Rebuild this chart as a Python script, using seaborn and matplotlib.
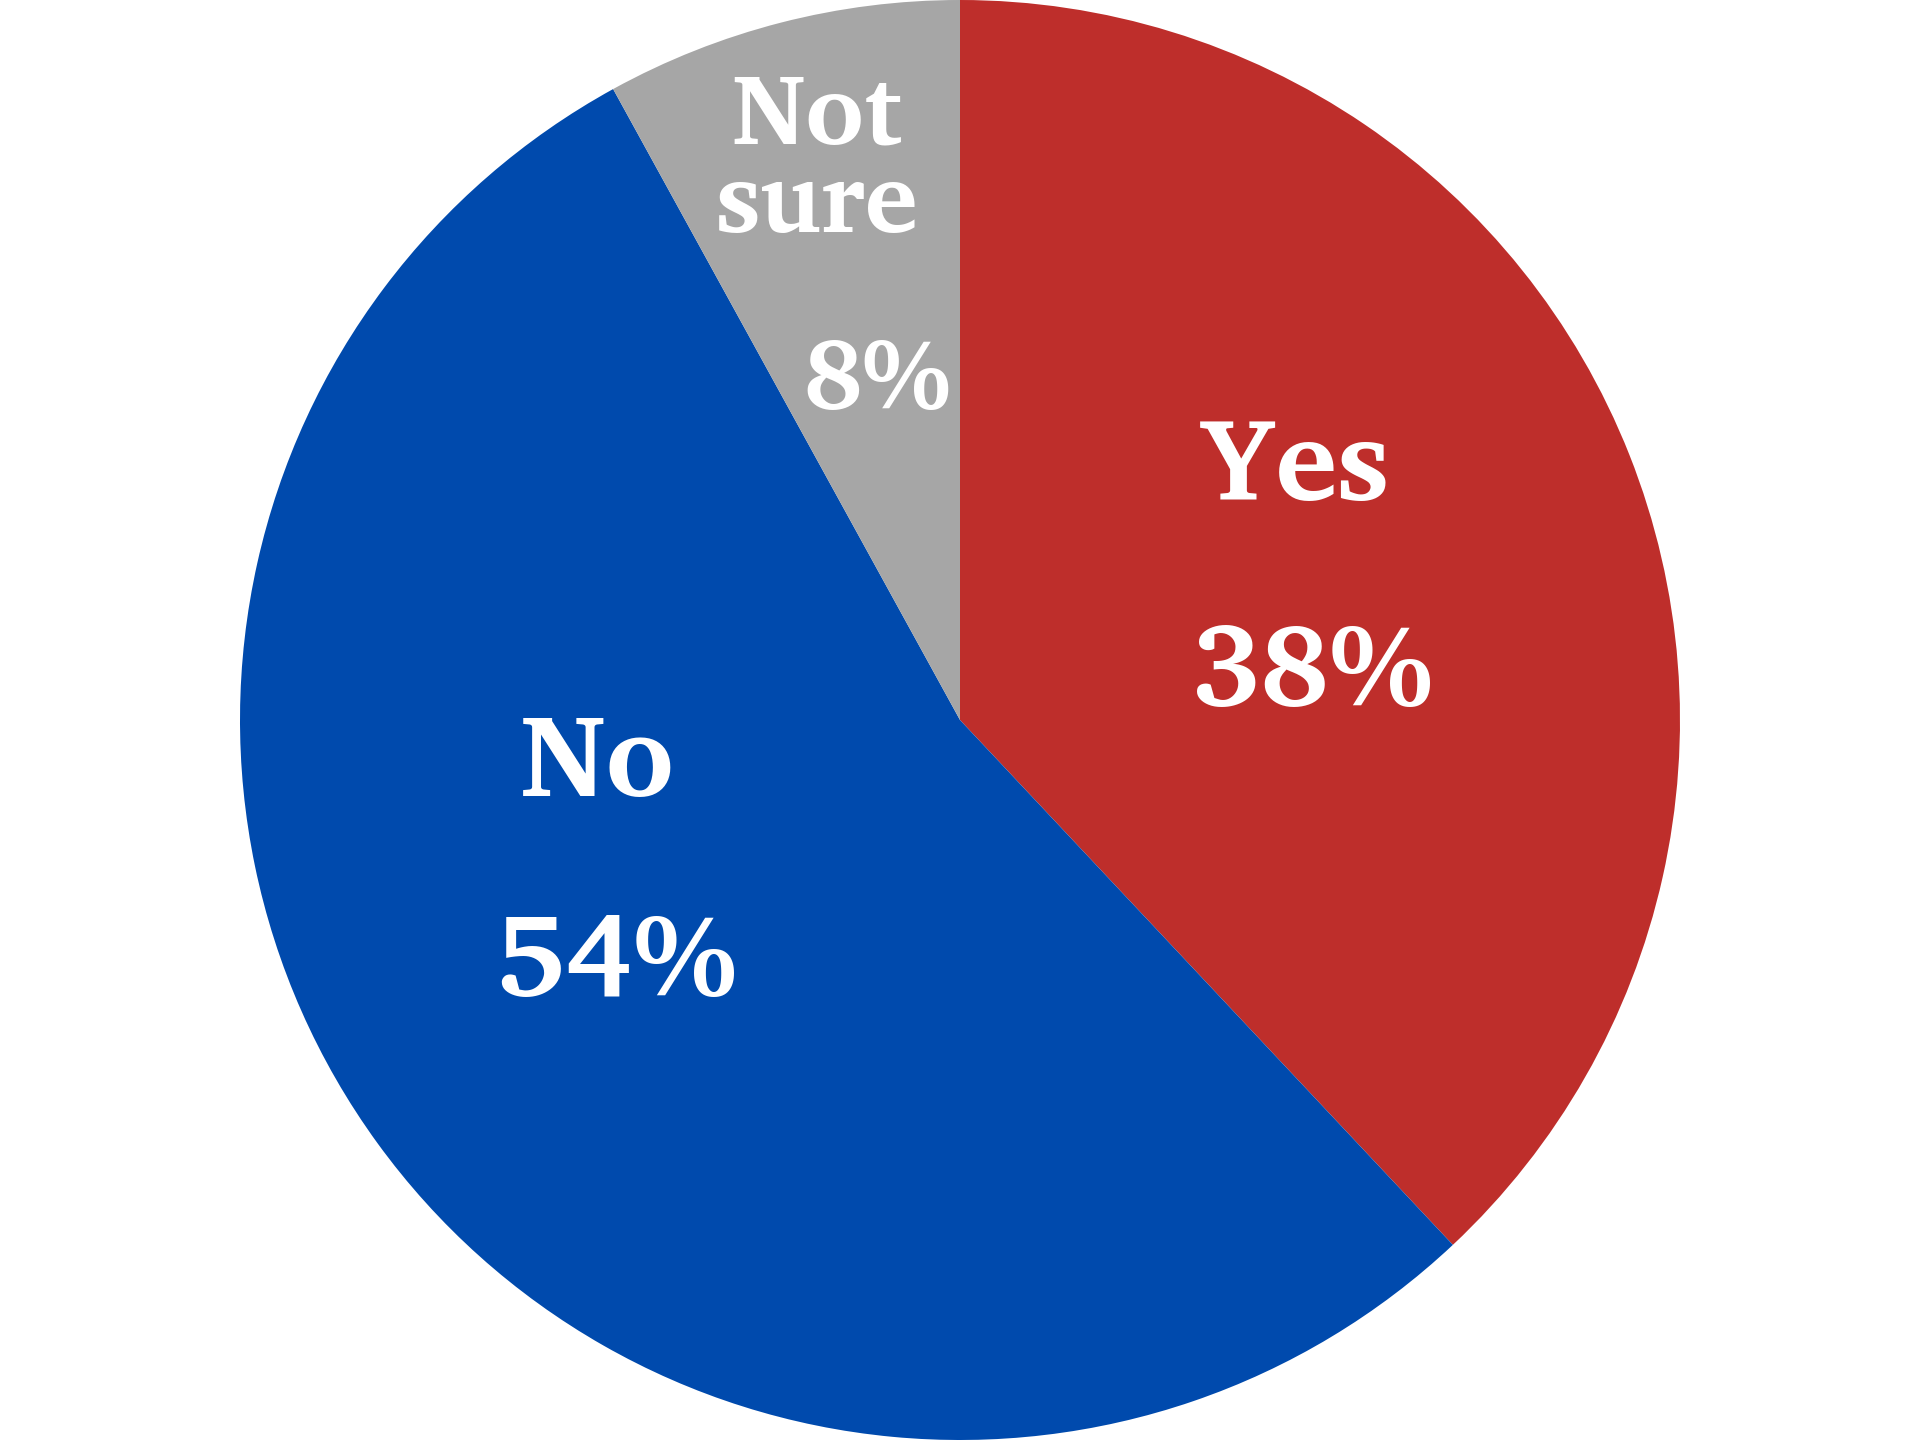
import matplotlib
matplotlib.use("Agg")
import matplotlib.pyplot as plt
import seaborn as sns

categories = ["Yes", "No", "Not sure"]
values = [38, 54, 8]
label_lines = [["Yes"], ["No"], ["Not", "sure"]]
pct_texts = ["38%", "54%", "8%"]
colors = ["#BE2E2B", "#004AAD", "#A6A6A6"]

sns.set_theme(style="white")
plt.rcParams['font.family'] = ['Charis SIL', 'Liberation Serif', 'DejaVu Serif']

fig = plt.figure(figsize=(19.2, 14.4), dpi=100)
ax = fig.add_axes([0, 0, 1, 1])
palette = sns.color_palette(colors)
ax.pie(values, colors=palette, startangle=90, counterclock=False,
       radius=1.0, wedgeprops=dict(linewidth=0))
ax.set_aspect('equal')
ax.set_xlim(-1.3333, 1.3333)
ax.set_ylim(-1, 1)
ax.axis('off')

# baseline-anchored label placement in data coords
label_pos = [(0.465, 0.306), (-0.504, -0.106), (-0.199, 0.801)]
pct_pos = [(0.49, 0.021), (-0.476, -0.382), (-0.114, 0.433)]
sizes = [84, 84, 72]
line_gap = 0.123

for lines, pct, lp, pp, fs in zip(label_lines, pct_texts, label_pos, pct_pos, sizes):
    for i, line in enumerate(lines):
        ax.text(lp[0], lp[1] - i * line_gap, line, ha='center', va='baseline',
                color='white', fontsize=fs, fontweight='bold')
    ax.text(pp[0], pp[1], pct, ha='center', va='baseline', color='white',
            fontsize=fs, fontweight='bold')

fig.savefig("out.png", dpi=100, facecolor='white')
